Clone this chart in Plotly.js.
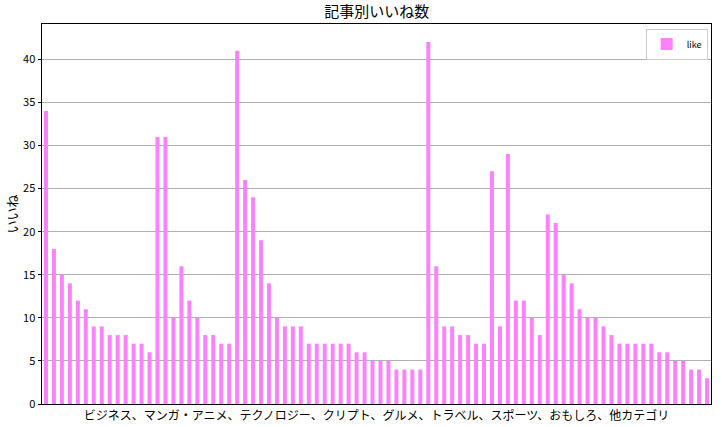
<!DOCTYPE html>
<html>
<head>
<meta charset="utf-8">
<script src="https://cdn.plot.ly/plotly-3.0.1.min.js"></script>
<style>html,body{margin:0;padding:0;background:#fff;}#chart{width:722px;height:427px;}</style>
</head>
<body>
<div id="chart"></div>
<script>
const seriesName = "like";
const likes = [
  34, 18, 15, 14, 12, 11, 9, 9, 8, 8, 8, 7, 7, 6, 31, 31, 10, 16, 12, 10, 8, 8, 7, 7,
  41, 26, 24, 19, 14, 10, 9, 9, 9, 7, 7, 7, 7, 7, 7, 6, 6, 5, 5, 5, 4, 4, 4, 4,
  42, 16, 9, 9, 8, 8, 7, 7, 27, 9, 29, 12, 12, 10, 8, 22, 21, 15, 14, 11, 10, 10, 9, 8,
  7, 7, 7, 7, 7, 6, 6, 5, 5, 4, 4, 3
];
const articleIndex = likes.map((_, i) => i);
const yTicks = [0, 5, 10, 15, 20, 25, 30, 35, 40];
const titleText = "記事別いいね数";
const xLabel = "ビジネス、マンガ・アニメ、テクノロジー、クリプト、グルメ、トラベル、スポーツ、おもしろ、他カテゴリ";
const yLabel = "いいね";

const font = '"Noto Sans CJK JP", "DejaVu Sans", sans-serif';

Plotly.newPlot('chart', [{
  type: 'bar',
  x: articleIndex,
  y: likes,
  name: seriesName,
  width: 0.5,
  marker: {color: '#ff80ff', line: {width: 0}},
  showlegend: true
}], {
  width: 722, height: 427,
  margin: {l: 42, r: 11, t: 24, b: 23, pad: 0},
  paper_bgcolor: '#fff', plot_bgcolor: '#fff',
  font: {family: font, color: '#000', size: 11},
  title: {text: titleText, x: 0.5219, xanchor: 'center', y: 0.972, yanchor: 'middle', font: {size: 15, family: font, color: '#000'}},
  xaxis: {
    range: [-0.5, likes.length - 0.5],
    showticklabels: false, ticks: '',
    showgrid: false, zeroline: false,
    showline: true, linecolor: '#000', linewidth: 1, mirror: true,
    title: {text: xLabel, standoff: 7, font: {size: 12, family: font, color: '#000'}}
  },
  yaxis: {
    range: [0, 44.1],
    tickvals: yTicks,
    ticks: 'outside', ticklen: 3.5, tickcolor: '#000', tickwidth: 1,
    tickfont: {size: 11, family: font, color: '#000'},
    showgrid: true, gridcolor: '#b0b0b0', gridwidth: 1,
    zeroline: false,
    showline: true, linecolor: '#000', linewidth: 1, mirror: true,
    title: {text: yLabel, standoff: 2, font: {size: 13, family: font, color: '#000'}}
  },
  legend: {
    x: 0.995, y: 0.988, xanchor: 'right', yanchor: 'top',
    bgcolor: 'rgba(255,255,255,0.8)', bordercolor: '#cccccc', borderwidth: 1,
    font: {size: 9, family: font, color: '#000'},
    itemwidth: 30
  },
  bargap: 0.5
}, {displayModeBar: false, staticPlot: true});
</script>
</body>
</html>
